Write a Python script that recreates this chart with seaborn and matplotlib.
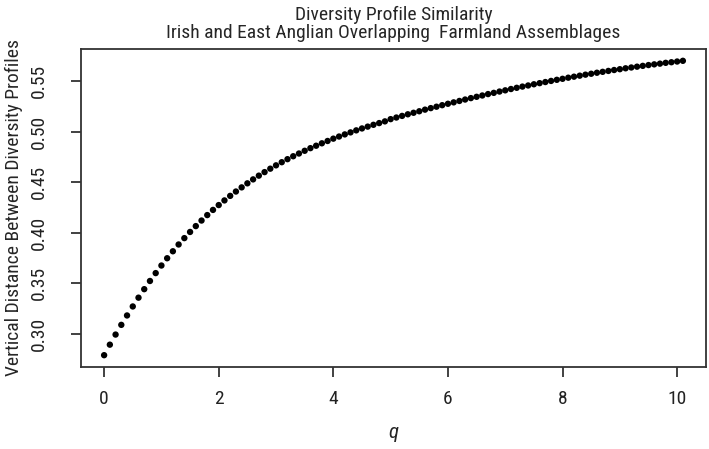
import numpy as np
import pandas as pd
import matplotlib
matplotlib.use("Agg")
import matplotlib.pyplot as plt
from matplotlib import font_manager
import seaborn as sns

# q values 0, 0.1, ..., 10.1 and the vertical distance
q = [round(0.1 * i, 1) for i in range(102)]
dist = [
    0.2789, 0.2893, 0.2993, 0.3089, 0.3182, 0.3271, 0.3358, 0.3442, 0.3523, 0.3601,
    0.3676, 0.3748, 0.3817, 0.3884, 0.3947, 0.4008, 0.4066, 0.4121, 0.4175, 0.4226,
    0.4274, 0.4320, 0.4365, 0.4408, 0.4449, 0.4489, 0.4528, 0.4565, 0.4600, 0.4634,
    0.4667, 0.4698, 0.4728, 0.4757, 0.4784, 0.4811, 0.4837, 0.4861, 0.4885, 0.4908,
    0.4931, 0.4952, 0.4973, 0.4993, 0.5013, 0.5032, 0.5050, 0.5068, 0.5085, 0.5102,
    0.5124, 0.5140, 0.5156, 0.5172, 0.5187, 0.5202, 0.5218, 0.5233, 0.5247, 0.5262,
    0.5276, 0.5290, 0.5304, 0.5318, 0.5332, 0.5345, 0.5358, 0.5372, 0.5384, 0.5397,
    0.5409, 0.5422, 0.5434, 0.5446, 0.5457, 0.5469, 0.5480, 0.5491, 0.5502, 0.5513,
    0.5523, 0.5534, 0.5544, 0.5554, 0.5564, 0.5573, 0.5583, 0.5592, 0.5601, 0.5610,
    0.5618, 0.5627, 0.5635, 0.5643, 0.5651, 0.5659, 0.5666, 0.5673, 0.5681, 0.5687,
    0.5694, 0.5701,
]
xticks = [0, 2, 4, 6, 8, 10]
yticks = [0.30, 0.35, 0.40, 0.45, 0.50, 0.55]
ytick_labels = ["0.30", "0.35", "0.40", "0.45", "0.50", "0.55"]

df = pd.DataFrame({"q": q, "dist": dist})

sns.set_style("ticks")
# narrow grotesque to mimic the squeezed Helvetica of the original
installed = {f.name for f in font_manager.fontManager.ttflist}
narrow = [n for n in ["Roboto Condensed", "PT Sans Narrow", "Pragati Narrow", "Archivo Narrow"]
          if n in installed]
plt.rcParams['font.family'] = narrow[:1] + ['Liberation Sans', 'DejaVu Sans']

fig = plt.figure(figsize=(7.09, 4.49), dpi=100)
ax = fig.add_axes([0.1142, 0.1826, 0.8816, 0.7083])

sns.scatterplot(data=df, x="q", y="dist", ax=ax, color="black", s=21,
                edgecolor="none", linewidth=0, legend=False)

ax.set_xlim(-0.404, 10.504)
ax.set_ylim(0.2672, 0.5818)
ax.set_xticks(xticks)
ax.set_xticklabels([str(t) for t in xticks])
ax.set_yticks(yticks)
ax.set_yticklabels(ytick_labels, rotation=90, va="center")

for sp in ax.spines.values():
    sp.set_visible(True)
    sp.set_color("#333333")
    sp.set_linewidth(1.3)
ax.tick_params(axis="both", direction="out", length=7.5, width=1.3,
               color="#333333", labelsize=14, labelcolor="#222222")
ax.tick_params(axis="x", pad=9)
ax.tick_params(axis="y", pad=16)

ax.set_xlabel("q", fontsize=15, style="italic", labelpad=11)
ax.set_ylabel("Vertical Distance Between Diversity Profiles", fontsize=14, labelpad=5)
ax.set_title("Diversity Profile Similarity\nIrish and East Anglian Overlapping  Farmland Assemblages",
             fontsize=14, pad=8, linespacing=1.0)

fig.savefig("out.png", dpi=100)
